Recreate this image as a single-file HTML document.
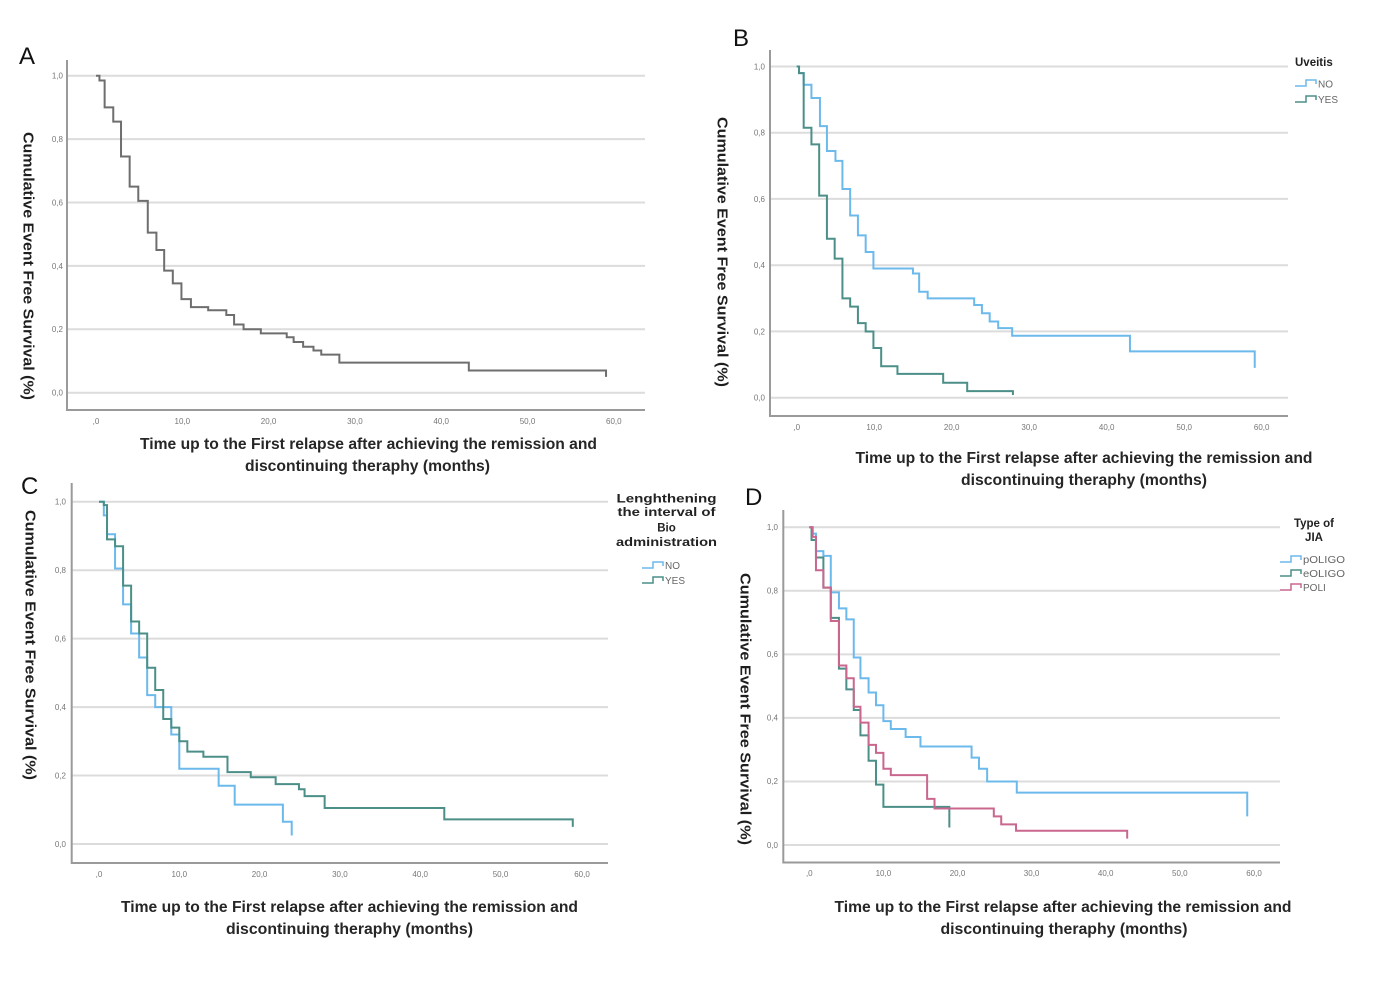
<!DOCTYPE html>
<html>
<head>
<meta charset="utf-8">
<style>
  html,body{margin:0;padding:0;background:#fff;}
  svg{display:block;}
  .grid{stroke:#dcdcdc;stroke-width:2;}
  .axis{stroke:#9a9a9a;stroke-width:2;fill:none;}
  .tick{font-family:"Liberation Sans",sans-serif;font-size:8px;fill:#777;}
  .xt{font-family:"Liberation Sans",sans-serif;font-size:16px;font-weight:bold;fill:#262626;}
  .yt{font-family:"Liberation Sans",sans-serif;font-size:15px;font-weight:bold;fill:#1e1e1e;}
  .letter{font-family:"Liberation Sans",sans-serif;font-size:24px;fill:#111;}
  .lt{font-family:"Liberation Sans",sans-serif;font-size:11.5px;font-weight:bold;fill:#222;}
  .li{font-family:"Liberation Sans",sans-serif;font-size:10px;fill:#666;}
  .c{fill:none;stroke-width:2;vector-effect:non-scaling-stroke;stroke-linejoin:miter;}
</style>
</head>
<body>
<svg width="1388" height="988" viewBox="0 0 1388 988" xmlns="http://www.w3.org/2000/svg">
<rect width="1388" height="988" fill="#fff"/>

<!-- ===================== PANEL A ===================== -->
<text class="letter" x="19" y="64">A</text>
<g>
  <line class="grid" x1="67" y1="75.7" x2="645" y2="75.7"/>
  <line class="grid" x1="67" y1="139.1" x2="645" y2="139.1"/>
  <line class="grid" x1="67" y1="202.5" x2="645" y2="202.5"/>
  <line class="grid" x1="67" y1="265.9" x2="645" y2="265.9"/>
  <line class="grid" x1="67" y1="329.3" x2="645" y2="329.3"/>
  <line class="grid" x1="67" y1="392.7" x2="645" y2="392.7"/>
  <polyline class="axis" points="67,60 67,410 645,410"/>
</g>
<g class="tick" text-anchor="end">
  <text x="63" y="78.5">1,0</text>
  <text x="63" y="142">0,8</text>
  <text x="63" y="205.5">0,6</text>
  <text x="63" y="269">0,4</text>
  <text x="63" y="332">0,2</text>
  <text x="63" y="395.5">0,0</text>
</g>
<g class="tick" text-anchor="middle">
  <text x="96" y="424">,0</text>
  <text x="182.3" y="424">10,0</text>
  <text x="268.6" y="424">20,0</text>
  <text x="354.9" y="424">30,0</text>
  <text x="441.2" y="424">40,0</text>
  <text x="527.5" y="424">50,0</text>
  <text x="613.8" y="424">60,0</text>
</g>
<g transform="translate(96,392.7) scale(8.63,-317)">
  <path class="c" stroke="#6e6e6e" d="M0,1 H0.4 V0.985 H1.0 V0.90 H2.0 V0.855 H2.9 V0.745 H3.9 V0.65 H4.9 V0.605 H6.0 V0.505 H7.0 V0.45 H7.9 V0.385 H8.9 V0.345 H9.9 V0.295 H11.0 V0.27 H13.0 V0.26 H15.1 V0.245 H16.0 V0.215 H17.1 V0.20 H19.1 V0.187 H22.1 V0.175 H22.9 V0.16 H24.0 V0.145 H25.2 V0.133 H26.1 V0.12 H28.2 V0.095 H43.2 V0.07 H59.1 V0.05"/>
</g>
<text class="yt" transform="translate(28,266) rotate(90)" text-anchor="middle" dominant-baseline="central" textLength="268" lengthAdjust="spacingAndGlyphs">Cumulative Event Free Survival (%)</text>
<text class="xt" x="368.5" y="449" text-anchor="middle" textLength="457" lengthAdjust="spacingAndGlyphs">Time up to the First relapse after achieving the remission and</text>
<text class="xt" x="367.5" y="471" text-anchor="middle" textLength="245" lengthAdjust="spacingAndGlyphs">discontinuing theraphy (months)</text>

<!-- ===================== PANEL B ===================== -->
<text class="letter" x="733" y="46">B</text>
<g>
  <line class="grid" x1="770" y1="66.5" x2="1288" y2="66.5"/>
  <line class="grid" x1="770" y1="132.7" x2="1288" y2="132.7"/>
  <line class="grid" x1="770" y1="198.9" x2="1288" y2="198.9"/>
  <line class="grid" x1="770" y1="265.2" x2="1288" y2="265.2"/>
  <line class="grid" x1="770" y1="331.4" x2="1288" y2="331.4"/>
  <line class="grid" x1="770" y1="397.7" x2="1288" y2="397.7"/>
  <polyline class="axis" points="770,50 770,416 1288,416"/>
</g>
<g class="tick" text-anchor="end">
  <text x="765" y="69.5">1,0</text>
  <text x="765" y="135.5">0,8</text>
  <text x="765" y="202">0,6</text>
  <text x="765" y="268">0,4</text>
  <text x="765" y="334.5">0,2</text>
  <text x="765" y="400.5">0,0</text>
</g>
<g class="tick" text-anchor="middle">
  <text x="796.7" y="430">,0</text>
  <text x="874.2" y="430">10,0</text>
  <text x="951.7" y="430">20,0</text>
  <text x="1029.2" y="430">30,0</text>
  <text x="1106.7" y="430">40,0</text>
  <text x="1184.2" y="430">50,0</text>
  <text x="1261.7" y="430">60,0</text>
</g>
<g transform="translate(796.7,397.7) scale(7.75,-331.2)">
  <path class="c" stroke="#6cb9ec" d="M0,1 H0.3 V0.98 H0.9 V0.945 H1.9 V0.905 H3.0 V0.82 H3.9 V0.745 H5.0 V0.715 H5.9 V0.63 H6.9 V0.55 H7.9 V0.49 H8.9 V0.44 H9.9 V0.39 H15.0 V0.375 H15.8 V0.32 H16.9 V0.30 H22.9 V0.28 H23.9 V0.255 H24.9 V0.23 H26.0 V0.21 H27.8 V0.187 H43.0 V0.14 H59.1 V0.09"/>
  <path class="c" stroke="#4b8f88" d="M0,1 H0.3 V0.98 H0.9 V0.815 H1.9 V0.765 H2.9 V0.61 H3.9 V0.48 H4.9 V0.42 H5.9 V0.30 H6.9 V0.275 H7.9 V0.225 H8.9 V0.20 H9.9 V0.15 H10.9 V0.095 H13.0 V0.072 H18.9 V0.045 H22.0 V0.02 H27.9 V0.008"/>
</g>
<text class="yt" transform="translate(722,252) rotate(90)" text-anchor="middle" dominant-baseline="central" textLength="270" lengthAdjust="spacingAndGlyphs">Cumulative Event Free Survival (%)</text>
<text class="xt" x="1084" y="463" text-anchor="middle" textLength="457" lengthAdjust="spacingAndGlyphs">Time up to the First relapse after achieving the remission and</text>
<text class="xt" x="1084" y="485" text-anchor="middle" textLength="246" lengthAdjust="spacingAndGlyphs">discontinuing theraphy (months)</text>
<!-- legend B -->
<text class="lt" x="1295" y="66">Uveitis</text>
<path d="M1295,86 H1306 V80 H1316 V84" fill="none" stroke="#6cb9ec" stroke-width="1.5"/>
<text class="li" x="1318" y="87.5">NO</text>
<path d="M1295,102 H1306 V96 H1316 V100" fill="none" stroke="#4b8f88" stroke-width="1.5"/>
<text class="li" x="1318" y="103">YES</text>

<!-- ===================== PANEL C ===================== -->
<text class="letter" x="21" y="494">C</text>
<g>
  <line class="grid" x1="71.7" y1="501.7" x2="608" y2="501.7"/>
  <line class="grid" x1="71.7" y1="570.2" x2="608" y2="570.2"/>
  <line class="grid" x1="71.7" y1="638.6" x2="608" y2="638.6"/>
  <line class="grid" x1="71.7" y1="707.1" x2="608" y2="707.1"/>
  <line class="grid" x1="71.7" y1="775.5" x2="608" y2="775.5"/>
  <line class="grid" x1="71.7" y1="844" x2="608" y2="844"/>
  <polyline class="axis" points="71.7,483 71.7,863 608,863"/>
</g>
<g class="tick" text-anchor="end">
  <text x="66" y="504.5">1,0</text>
  <text x="66" y="573">0,8</text>
  <text x="66" y="641.5">0,6</text>
  <text x="66" y="710">0,4</text>
  <text x="66" y="778.5">0,2</text>
  <text x="66" y="847">0,0</text>
</g>
<g class="tick" text-anchor="middle">
  <text x="99" y="877">,0</text>
  <text x="179.3" y="877">10,0</text>
  <text x="259.6" y="877">20,0</text>
  <text x="339.9" y="877">30,0</text>
  <text x="420.2" y="877">40,0</text>
  <text x="500.5" y="877">50,0</text>
  <text x="582" y="877">60,0</text>
</g>
<g transform="translate(99,844) scale(8.03,-342.3)">
  <path class="c" stroke="#6cb9ec" d="M0,1 H0.6 V0.96 H1.0 V0.905 H2.0 V0.805 H3.0 V0.70 H4.0 V0.615 H5.0 V0.545 H6.0 V0.435 H7.0 V0.40 H9.0 V0.32 H10.0 V0.22 H14.9 V0.17 H16.9 V0.115 H22.9 V0.065 H24.0 V0.025"/>
  <path class="c" stroke="#4b8f88" d="M0,1 H0.6 V0.99 H1.0 V0.89 H2.0 V0.87 H3.0 V0.755 H4.0 V0.65 H5.0 V0.615 H6.0 V0.515 H7.0 V0.45 H8.0 V0.365 H9.0 V0.34 H10.0 V0.30 H11.0 V0.27 H13.0 V0.255 H16.0 V0.21 H18.9 V0.195 H22.0 V0.175 H24.9 V0.16 H25.6 V0.14 H28.1 V0.105 H43.0 V0.072 H59.0 V0.05"/>
</g>
<text class="yt" transform="translate(30,645) rotate(90)" text-anchor="middle" dominant-baseline="central" textLength="270" lengthAdjust="spacingAndGlyphs">Cumulative Event Free Survival (%)</text>
<text class="xt" x="349.5" y="912" text-anchor="middle" textLength="457" lengthAdjust="spacingAndGlyphs">Time up to the First relapse after achieving the remission and</text>
<text class="xt" x="349.5" y="934" text-anchor="middle" textLength="247" lengthAdjust="spacingAndGlyphs">discontinuing theraphy (months)</text>
<!-- legend C -->
<g class="lt" text-anchor="middle">
  <text x="666.5" y="502.5" textLength="100" lengthAdjust="spacingAndGlyphs">Lenghthening</text>
  <text x="666.5" y="516" textLength="98" lengthAdjust="spacingAndGlyphs">the interval of</text>
  <text x="666.5" y="531.5">Bio</text>
  <text x="666.5" y="546" textLength="101" lengthAdjust="spacingAndGlyphs">administration</text>
</g>
<path d="M642,568 H653 V562 H663 V566" fill="none" stroke="#6cb9ec" stroke-width="1.5"/>
<text class="li" x="665" y="569">NO</text>
<path d="M642,583 H653 V577 H663 V581" fill="none" stroke="#4b8f88" stroke-width="1.5"/>
<text class="li" x="665" y="584">YES</text>

<!-- ===================== PANEL D ===================== -->
<text class="letter" x="745" y="505">D</text>
<g>
  <line class="grid" x1="783.3" y1="527.3" x2="1280" y2="527.3"/>
  <line class="grid" x1="783.3" y1="590.8" x2="1280" y2="590.8"/>
  <line class="grid" x1="783.3" y1="654.4" x2="1280" y2="654.4"/>
  <line class="grid" x1="783.3" y1="717.9" x2="1280" y2="717.9"/>
  <line class="grid" x1="783.3" y1="781.5" x2="1280" y2="781.5"/>
  <line class="grid" x1="783.3" y1="845" x2="1280" y2="845"/>
  <polyline class="axis" points="783.3,510 783.3,862.5 1280,862.5"/>
</g>
<g class="tick" text-anchor="end">
  <text x="778" y="530">1,0</text>
  <text x="778" y="593.5">0,8</text>
  <text x="778" y="657">0,6</text>
  <text x="778" y="720.5">0,4</text>
  <text x="778" y="784">0,2</text>
  <text x="778" y="848">0,0</text>
</g>
<g class="tick" text-anchor="middle">
  <text x="809.3" y="876">,0</text>
  <text x="883.4" y="876">10,0</text>
  <text x="957.5" y="876">20,0</text>
  <text x="1031.6" y="876">30,0</text>
  <text x="1105.7" y="876">40,0</text>
  <text x="1179.8" y="876">50,0</text>
  <text x="1254" y="876">60,0</text>
</g>
<g transform="translate(809.3,845) scale(7.41,-317.7)">
  <path class="c" stroke="#6cb9ec" d="M0,1 H0.45 V0.98 H0.9 V0.925 H1.9 V0.91 H2.9 V0.795 H4.0 V0.745 H5.0 V0.71 H6.0 V0.59 H6.9 V0.525 H8.0 V0.48 H9.0 V0.44 H10.0 V0.39 H11.0 V0.365 H13.0 V0.34 H15.0 V0.31 H21.9 V0.275 H22.9 V0.24 H24.0 V0.20 H28.0 V0.165 H59.1 V0.09"/>
  <path class="c" stroke="#4b8f88" d="M0,1 H0.3 V0.96 H0.9 V0.905 H1.9 V0.81 H2.9 V0.715 H4.0 V0.555 H5.0 V0.49 H6.0 V0.425 H6.9 V0.345 H8.0 V0.265 H9.0 V0.19 H10.0 V0.12 H18.9 V0.055"/>
  <path class="c" stroke="#c9678e" d="M0,1 H0.45 V0.97 H0.9 V0.865 H1.9 V0.81 H2.9 V0.705 H4.0 V0.565 H5.0 V0.525 H6.0 V0.435 H6.9 V0.385 H8.0 V0.315 H9.0 V0.29 H10.0 V0.24 H11.0 V0.22 H15.9 V0.145 H16.9 V0.115 H24.9 V0.09 H25.9 V0.065 H27.9 V0.045 H42.9 V0.02"/>
</g>
<text class="yt" transform="translate(745,709) rotate(90)" text-anchor="middle" dominant-baseline="central" textLength="272" lengthAdjust="spacingAndGlyphs">Cumulative Event Free Survival (%)</text>
<text class="xt" x="1063" y="912" text-anchor="middle" textLength="457" lengthAdjust="spacingAndGlyphs">Time up to the First relapse after achieving the remission and</text>
<text class="xt" x="1064" y="934" text-anchor="middle" textLength="247" lengthAdjust="spacingAndGlyphs">discontinuing theraphy (months)</text>
<!-- legend D -->
<g class="lt" text-anchor="middle">
  <text x="1314" y="527">Type of</text>
  <text x="1314" y="541">JIA</text>
</g>
<path d="M1280,562 H1291 V556 H1301 V560" fill="none" stroke="#6cb9ec" stroke-width="1.5"/>
<text class="li" x="1303" y="563" textLength="42" lengthAdjust="spacingAndGlyphs">pOLIGO</text>
<path d="M1280,576 H1291 V570 H1301 V574" fill="none" stroke="#4b8f88" stroke-width="1.5"/>
<text class="li" x="1303" y="577" textLength="42" lengthAdjust="spacingAndGlyphs">eOLIGO</text>
<path d="M1280,590 H1291 V584 H1301 V588" fill="none" stroke="#c9678e" stroke-width="1.5"/>
<text class="li" x="1303" y="591">POLI</text>
</svg>
</body>
</html>
